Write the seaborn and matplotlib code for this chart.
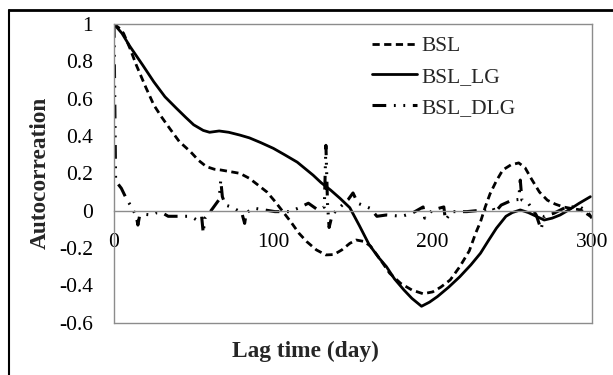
import matplotlib
matplotlib.use("Agg")
import matplotlib.pyplot as plt
from matplotlib.lines import Line2D
import seaborn as sns
import pandas as pd

# ---------------- data ----------------
lag_bsl = [0, 3, 6, 10, 14, 20, 25, 30, 35, 41, 48, 53, 58, 63, 67, 73, 79, 85, 90, 96,
           101, 106, 111, 116, 121, 127, 133, 138, 143, 148, 152, 157, 161, 167, 173, 180,
           187, 194, 200, 205, 211, 217, 223, 227, 230, 233, 236, 240, 244, 249, 254, 258,
           262, 267, 272, 277, 282, 287, 293, 299]
acf_bsl = [1.0, 0.98, 0.95, 0.87, 0.78, 0.66, 0.566, 0.50, 0.44, 0.37, 0.316, 0.27, 0.236,
           0.222, 0.218, 0.209, 0.20, 0.173, 0.14, 0.10, 0.05, -0.005, -0.06, -0.12, -0.166,
           -0.21, -0.237, -0.235, -0.21, -0.175, -0.157, -0.165, -0.19, -0.26, -0.335, -0.39,
           -0.425, -0.445, -0.435, -0.41, -0.371, -0.30, -0.215, -0.12, -0.06, 0.02, 0.09,
           0.16, 0.218, 0.245, 0.256, 0.23, 0.17, 0.10, 0.056, 0.035, 0.02, 0.012, 0.004, -0.03]

lag_lg = [0, 5, 10, 18, 25, 32, 39, 45, 50, 56, 60, 66, 72, 79, 85, 92, 100, 107, 115, 120,
          125, 130, 136, 142, 148, 154, 160, 166, 171, 176, 182, 187, 193, 198, 203, 210, 217,
          224, 230, 235, 240, 246, 250, 255, 260, 265, 270, 275, 280, 286, 292, 299]
acf_lg = [1.0, 0.95, 0.88, 0.78, 0.69, 0.61, 0.55, 0.50, 0.46, 0.43, 0.42, 0.427, 0.42, 0.405,
          0.39, 0.365, 0.334, 0.30, 0.26, 0.225, 0.19, 0.15, 0.11, 0.065, 0.016, -0.08, -0.18,
          -0.25, -0.30, -0.365, -0.425, -0.47, -0.512, -0.49, -0.46, -0.41, -0.354, -0.29,
          -0.228, -0.16, -0.094, -0.03, -0.01, 0.004, -0.01, -0.03, -0.05, -0.04, -0.023,
          0.007, 0.04, 0.075]

lag_dlg = [0, 1, 4.6, 8, 11, 14, 15, 16, 20, 23.4, 27, 30, 34, 37, 42, 46.5, 50, 52, 55, 56,
           57, 60, 62, 66, 67, 68, 70, 73.6, 78, 80, 82, 83, 88, 94.6, 101, 110, 115.5, 122,
           128, 132, 133, 134, 135, 137, 142, 147, 150, 153, 160.7, 165, 171, 180.6, 187, 194,
           195, 200, 207, 208, 212, 221.5, 232, 238, 239, 243, 250, 254, 255, 256, 260, 265,
           268, 270, 276, 284, 292.5, 297, 300]
acf_dlg = [1.0, 0.16, 0.12, 0.06, 0.02, -0.03, -0.077, -0.03, -0.02, -0.023, -0.01, -0.01,
           -0.03, -0.03, -0.03, -0.03, -0.04, -0.05, -0.03, -0.12, -0.04, -0.01, 0.013, 0.06,
           0.164, 0.075, 0.03, 0.02, 0.0, -0.005, -0.068, -0.01, 0.013, 0.004, -0.005, -0.005,
           0.013, 0.04, 0.004, 0.02, 0.35, 0.04, -0.09, -0.02, 0.02, 0.06, 0.095, 0.04, 0.013,
           -0.03, -0.023, -0.03, -0.014, 0.02, -0.04, 0.004, 0.02, -0.05, -0.005, -0.005, 0.004,
           0.015, -0.01, 0.03, 0.057, 0.06, 0.164, 0.057, 0.04, -0.023, -0.1, -0.03, -0.014,
           0.02, 0.02, -0.005, -0.04]

series_names = ["BSL", "BSL_LG", "BSL_DLG"]
x_ticks = [0, 100, 200, 300]
y_ticks = [-0.6, -0.4, -0.2, 0, 0.2, 0.4, 0.6, 0.8, 1]
y_tick_labels = ["-0.6", "-0.4", "-0.2", "0", "0.2", "0.4", "0.6", "0.8", "1"]

# ---------------- figure ----------------
sns.set_style("white")
plt.rcParams["font.family"] = ["Liberation Serif", "DejaVu Serif"]

fig = plt.figure(figsize=(6.13, 3.75), dpi=100)
ax = fig.add_axes([114 / 613, 1 - 322.7 / 375, (592 - 114) / 613, (322.7 - 24) / 375])

df_bsl = pd.DataFrame({"lag": lag_bsl, "acf": acf_bsl})
df_lg = pd.DataFrame({"lag": lag_lg, "acf": acf_lg})
df_dlg = pd.DataFrame({"lag": lag_dlg, "acf": acf_dlg})

dash_bsl = [2.6, 1.6]
dash_dlg = [4.5, 2.5, 0.6, 2.5, 0.6, 2.5]

sns.lineplot(data=df_bsl, x="lag", y="acf", ax=ax, color="black", lw=2.0,
             sort=False, estimator=None)
ax.lines[-1].set_dashes(dash_bsl)
sns.lineplot(data=df_lg, x="lag", y="acf", ax=ax, color="black", lw=2.0,
             sort=False, estimator=None)
sns.lineplot(data=df_dlg, x="lag", y="acf", ax=ax, color="black", lw=2.2,
             sort=False, estimator=None)
ax.lines[-1].set_dashes(dash_dlg)

ax.set_xlim(0, 300)
ax.set_ylim(-0.6, 1.0)

grey = "#8c8c8c"
for s in ax.spines.values():
    s.set_color(grey)
    s.set_linewidth(1.0)
# x axis crosses at y = 0
ax.spines["bottom"].set_position(("data", 0))
ax.axhline(-0.6, color=grey, lw=1.0, clip_on=False, zorder=0.5)

tick_fs = 15.5
ax.set_xticks(x_ticks)
ax.set_xticklabels([str(t) for t in x_ticks])
ax.set_yticks(y_ticks)
ax.set_yticklabels(y_tick_labels)
ax.tick_params(axis="both", which="major", labelsize=tick_fs, colors="black",
               direction="out", width=1.0)
ax.tick_params(axis="x", color=grey, pad=12, length=4)
ax.tick_params(axis="y", color=grey, pad=10, length=5)

ax.set_xlabel("")
ax.set_ylabel("")
fig.text(305 / 613, 1 - 351 / 375, "Lag time (day)", ha="center", va="center",
         fontsize=16.8, fontweight="bold")
fig.text(40 / 613, 1 - 173 / 375, "Autocorreation", ha="center", va="center",
         rotation=90, fontsize=16.8, fontweight="bold")

handles = [Line2D([], [], color="black", lw=2.0, dashes=dash_bsl),
           Line2D([], [], color="black", lw=2.0),
           Line2D([], [], color="black", lw=2.2, dashes=dash_dlg)]
leg = ax.legend(handles, series_names, loc="upper left",
                bbox_to_anchor=((372 - 114) / (592 - 114), 1 - (36 - 24) / (322.7 - 24)),
                frameon=False, fontsize=tick_fs, handlelength=2.1, handletextpad=0.2,
                labelspacing=0.5, borderaxespad=0, borderpad=0)

# outer figure border (top and left only visible)
fig.add_artist(Line2D([9 / 613, 1], [1 - 10 / 375, 1 - 10 / 375], color="black",
                      lw=2.0, transform=fig.transFigure))
fig.add_artist(Line2D([9 / 613, 9 / 613], [0, 1 - 10 / 375], color="black",
                      lw=1.5, transform=fig.transFigure))

fig.savefig("out.png", dpi=100)
